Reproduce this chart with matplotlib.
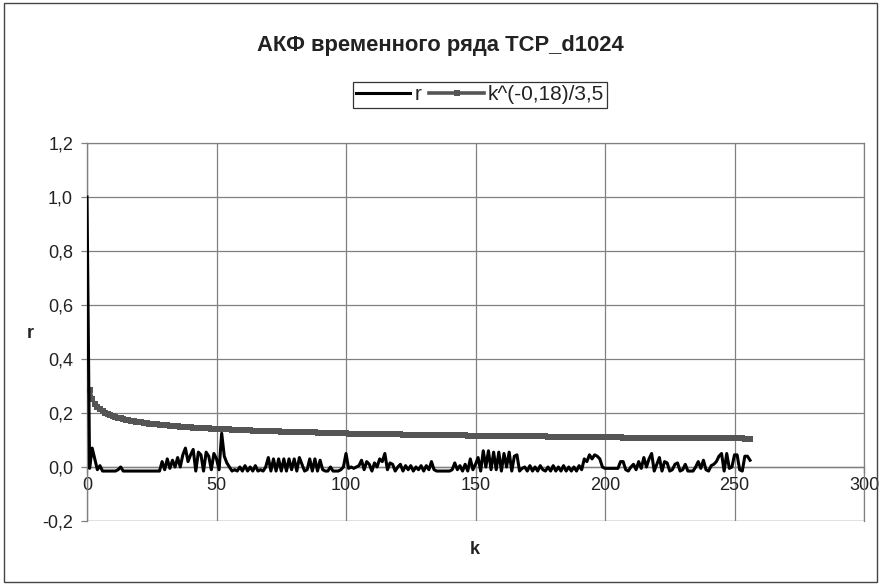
import matplotlib.pyplot as plt
from matplotlib.patches import Rectangle

plt.rcParams['font.family'] = ['Liberation Sans', 'DejaVu Sans']

# lag k
k_r = list(range(0, 257))
k_fit = list(range(1, 257))

# sample autocorrelation r(k)
r_values = [
    1.0, -0.005, 0.07, 0.03, -0.01, 0.005, -0.015, -0.015, -0.015, -0.015,
    -0.015, -0.015, -0.01, 0.0, -0.015, -0.015, -0.015, -0.015, -0.015, -0.015,
    -0.015, -0.015, -0.015, -0.015, -0.015, -0.015, -0.015, -0.015, -0.015, 0.02,
    -0.01, 0.03, -0.005, 0.025, 0.0, 0.035, 0.0, 0.045, 0.07, 0.02,
    0.045, 0.065, -0.015, 0.055, 0.045, -0.015, 0.055, 0.04, -0.01, 0.05,
    0.03, -0.01, 0.125, 0.04, 0.015, 0.0, -0.015, -0.01, -0.015, 0.0,
    -0.015, 0.005, -0.015, 0.0, -0.015, 0.005, -0.015, -0.01, -0.015, 0.0,
    0.035, -0.015, 0.03, -0.015, 0.03, -0.015, 0.03, -0.015, 0.03, -0.01,
    0.03, -0.015, 0.035, 0.01, -0.015, -0.01, 0.03, -0.015, 0.03, -0.015,
    0.025, -0.01, -0.015, -0.015, 0.0, -0.015, -0.015, -0.015, -0.01, 0.0,
    0.05, -0.005, 0.0, -0.005, 0.0, 0.005, 0.025, -0.01, 0.02, 0.01,
    -0.015, 0.015, 0.0, 0.03, 0.02, 0.05, -0.01, 0.015, 0.01, -0.015,
    0.0, 0.01, -0.015, 0.005, -0.01, 0.005, -0.015, 0.0, -0.01, 0.005,
    -0.015, 0.005, -0.01, 0.02, -0.01, -0.015, -0.015, -0.015, -0.015, -0.015,
    -0.015, -0.01, 0.015, -0.01, 0.005, -0.015, 0.01, -0.015, 0.03, -0.01,
    0.01, 0.035, -0.015, 0.06, 0.0, 0.06, -0.01, 0.055, -0.01, 0.055,
    -0.015, 0.05, 0.0, 0.055, -0.015, 0.04, 0.045, -0.015, -0.005, 0.0,
    -0.015, 0.005, -0.015, 0.0, -0.015, 0.005, -0.01, -0.015, 0.0, -0.015,
    0.005, -0.015, 0.0, -0.015, 0.005, -0.015, 0.0, -0.015, 0.0, -0.015,
    0.005, -0.01, 0.03, 0.02, 0.045, 0.03, 0.045, 0.04, 0.03, 0.0,
    -0.005, -0.005, -0.005, -0.005, -0.005, -0.005, 0.02, 0.02, -0.01, -0.015,
    0.0, 0.01, -0.01, 0.02, -0.005, 0.035, 0.0, 0.03, 0.05, -0.015,
    0.01, 0.035, -0.015, 0.02, 0.015, -0.015, -0.01, 0.01, 0.015, -0.015,
    -0.01, 0.01, -0.015, -0.015, -0.015, 0.0, 0.02, -0.005, 0.025, -0.01,
    -0.015, 0.005, 0.01, 0.02, 0.04, 0.05, -0.015, 0.05, -0.005, 0.0,
    0.045, 0.045, -0.01, -0.015, 0.04, 0.04, 0.025,
]

# fitted curve k^(-0,18)/3,5 (k = 1..256)
fit_values = [
    0.286, 0.252, 0.234, 0.223, 0.214, 0.207, 0.201, 0.197, 0.192, 0.189,
    0.186, 0.183, 0.180, 0.178, 0.175, 0.173, 0.172, 0.170, 0.168, 0.167,
    0.165, 0.164, 0.162, 0.161, 0.160, 0.159, 0.158, 0.157, 0.156, 0.155,
    0.154, 0.153, 0.152, 0.151, 0.151, 0.150, 0.149, 0.148, 0.148, 0.147,
    0.146, 0.146, 0.145, 0.145, 0.144, 0.143, 0.143, 0.142, 0.142, 0.141,
    0.141, 0.140, 0.140, 0.139, 0.139, 0.138, 0.138, 0.138, 0.137, 0.137,
    0.136, 0.136, 0.136, 0.135, 0.135, 0.134, 0.134, 0.134, 0.133, 0.133,
    0.133, 0.132, 0.132, 0.132, 0.131, 0.131, 0.131, 0.130, 0.130, 0.130,
    0.130, 0.129, 0.129, 0.129, 0.128, 0.128, 0.128, 0.128, 0.127, 0.127,
    0.127, 0.127, 0.126, 0.126, 0.126, 0.126, 0.125, 0.125, 0.125, 0.125,
    0.124, 0.124, 0.124, 0.124, 0.124, 0.123, 0.123, 0.123, 0.123, 0.123,
    0.122, 0.122, 0.122, 0.122, 0.122, 0.121, 0.121, 0.121, 0.121, 0.121,
    0.121, 0.120, 0.120, 0.120, 0.120, 0.120, 0.119, 0.119, 0.119, 0.119,
    0.119, 0.119, 0.118, 0.118, 0.118, 0.118, 0.118, 0.118, 0.118, 0.117,
    0.117, 0.117, 0.117, 0.117, 0.117, 0.117, 0.116, 0.116, 0.116, 0.116,
    0.116, 0.116, 0.116, 0.115, 0.115, 0.115, 0.115, 0.115, 0.115, 0.115,
    0.114, 0.114, 0.114, 0.114, 0.114, 0.114, 0.114, 0.114, 0.113, 0.113,
    0.113, 0.113, 0.113, 0.113, 0.113, 0.113, 0.113, 0.112, 0.112, 0.112,
    0.112, 0.112, 0.112, 0.112, 0.112, 0.112, 0.111, 0.111, 0.111, 0.111,
    0.111, 0.111, 0.111, 0.111, 0.111, 0.110, 0.110, 0.110, 0.110, 0.110,
    0.110, 0.110, 0.110, 0.110, 0.110, 0.110, 0.109, 0.109, 0.109, 0.109,
    0.109, 0.109, 0.109, 0.109, 0.109, 0.109, 0.108, 0.108, 0.108, 0.108,
    0.108, 0.108, 0.108, 0.108, 0.108, 0.108, 0.108, 0.108, 0.107, 0.107,
    0.107, 0.107, 0.107, 0.107, 0.107, 0.107, 0.107, 0.107, 0.107, 0.107,
    0.106, 0.106, 0.106, 0.106, 0.106, 0.106, 0.106, 0.106, 0.106, 0.106,
    0.106, 0.106, 0.106, 0.105, 0.105, 0.105,
]

x_ticks = [0, 50, 100, 150, 200, 250, 300]
y_ticks = [-0.2, 0.0, 0.2, 0.4, 0.6, 0.8, 1.0, 1.2]

fig = plt.figure(figsize=(8.81, 5.85), dpi=100)
ax = fig.add_axes([87 / 881, 1 - 521 / 585, 777 / 881, 378 / 585])

grid_col = '#808080'
txt_col = '#222222'
ax.plot(k_r, r_values, color='black', lw=2.2, label='r', zorder=4)
ax.plot(k_fit, fit_values, color='#555555', lw=2.6, marker='s', markersize=5,
        markeredgewidth=0, label='k^(-0,18)/3,5', zorder=3)

ax.set_xlim(0, 300)
ax.set_ylim(-0.2, 1.2)
ax.set_xticks(x_ticks)
ax.set_yticks(y_ticks)
ax.set_xticklabels([str(v) for v in x_ticks])
ax.set_yticklabels([f"{v:.1f}".replace('.', ',') for v in y_ticks])
ax.grid(True, color=grid_col, lw=0.9)
ax.set_axisbelow(True)

for s in ['top', 'right']:
    ax.spines[s].set_color(grid_col)
    ax.spines[s].set_linewidth(0.9)
ax.spines['left'].set_color(grid_col)
ax.spines['left'].set_linewidth(1.0)
ax.spines['bottom'].set_position(('data', 0))
ax.spines['bottom'].set_color(grid_col)
ax.spines['bottom'].set_linewidth(1.0)
ax.axhline(-0.2, color=grid_col, lw=0.9, zorder=0.5)

ax.tick_params(axis='y', direction='out', length=4, width=0.9, color=grid_col,
               pad=6, labelsize=13, labelcolor=txt_col)
ax.tick_params(axis='x', direction='out', length=4, width=0.9, color=grid_col,
               pad=3, labelsize=13, labelcolor=txt_col)

fig.text(30 / 881, 1 - 333 / 585, 'r', fontsize=13, fontweight='bold',
         ha='center', va='center', color=txt_col)
fig.text(475 / 881, 1 - 549 / 585, 'k', fontsize=13, fontweight='bold',
         ha='center', va='center', color=txt_col)
fig.text(440 / 881, 1 - 46 / 585, 'АКФ временного ряда TCP_d1024', fontsize=15.8,
         fontweight='bold', ha='center', va='center', color=txt_col)

leg = fig.legend(loc='center', bbox_to_anchor=(480 / 881, 1 - 95 / 585), ncol=2,
                 frameon=True, fancybox=False, fontsize=15, handlelength=2.6,
                 handletextpad=0.2, columnspacing=0.4, borderpad=0.15,
                 borderaxespad=0, labelcolor=txt_col)
leg.get_frame().set_edgecolor('black')
leg.get_frame().set_linewidth(0.9)

fig.patches.append(Rectangle((4 / 881, 3 / 585), 873 / 881, 579 / 585,
                             transform=fig.transFigure, fill=False,
                             edgecolor='#444444', lw=1.0))

fig.savefig('out.png', dpi=100)
